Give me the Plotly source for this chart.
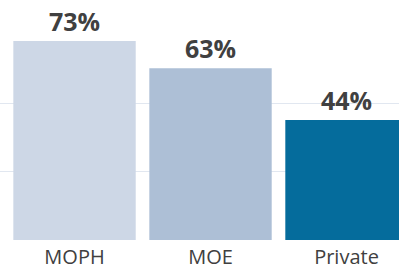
import plotly.graph_objects as go

categories = ["MOPH", "MOE", "Private"]
values = [73, 63, 44]
labels = ["73%", "63%", "44%"]
colors = ["#cdd7e6", "#adbfd6", "#056c9c"]

fig = go.Figure(go.Bar(
    x=categories, y=values, text=labels,
    textposition="outside", cliponaxis=False,
    marker=dict(color=colors, line=dict(width=0)),
    textfont=dict(family="Open Sans", size=25, color="#404040", weight="bold"),
    hoverinfo="skip",
))
fig.update_layout(
    width=399, height=269,
    margin=dict(l=0, r=0, t=0, b=29, autoexpand=False),
    paper_bgcolor="white", plot_bgcolor="white",
    bargap=0.1, showlegend=False,
)
fig.update_xaxes(
    range=[-0.548, 2.386], showgrid=False, showline=False, zeroline=False,
    ticks="", ticklabelstandoff=3, automargin=False,
    tickfont=dict(family="Open Sans", size=20, color="#404040"),
)
fig.update_yaxes(
    range=[0, 88], tickvals=[25, 50], showticklabels=False,
    showgrid=True, gridcolor="#e1e7f0", gridwidth=1, zeroline=False,
    layer="above traces",
)
fig.write_html("out.html", config={"displayModeBar": False},
               post_script="document.body.style.margin='0';")
